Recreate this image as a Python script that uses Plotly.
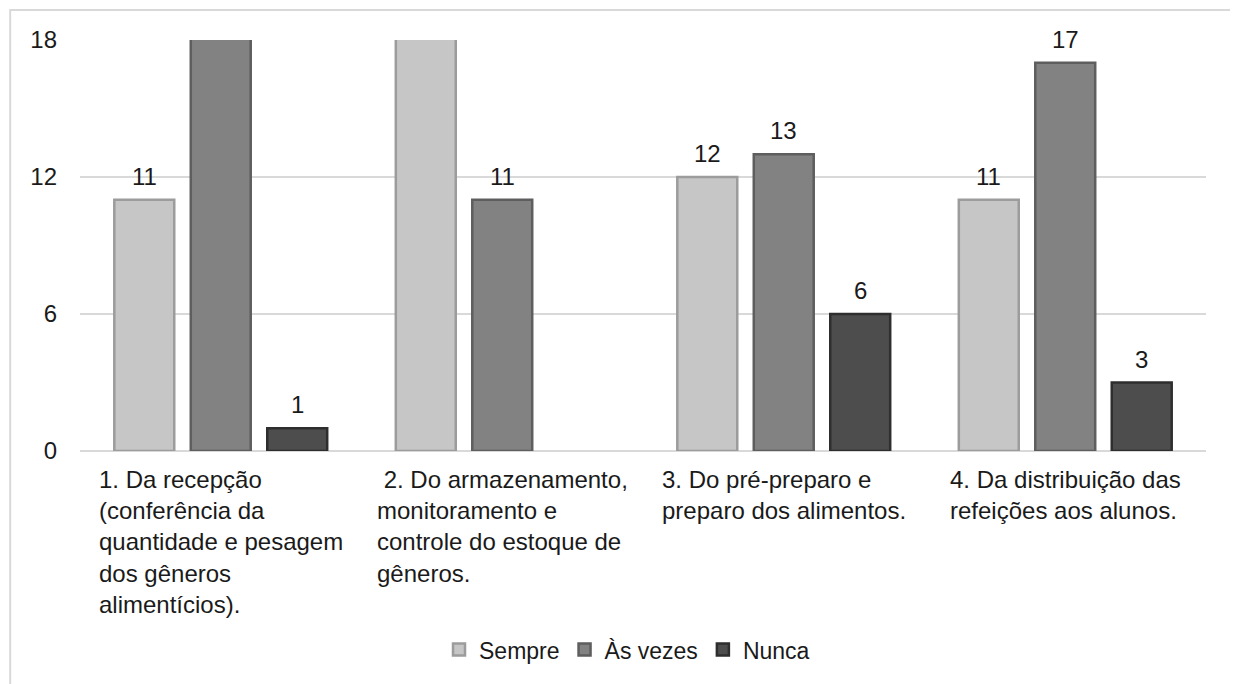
import plotly.graph_objects as go

categories = [
    "1. Da recepção<br>(conferência da<br>quantidade e pesagem<br>dos gêneros<br>alimentícios).",
    " 2. Do armazenamento,<br>monitoramento e<br>controle do estoque de<br>gêneros.",
    "3. Do pré-preparo e<br>preparo dos alimentos.",
    "4. Da distribuição das<br>refeições aos alunos.",
]
series_names = ["Sempre", "Às vezes", "Nunca"]
sempre = [11, 20, 12, 11]
as_vezes = [19, 11, 13, 17]
nunca = [1, None, 6, 3]
y_ticks = [0, 6, 12, 18]
y_max = 18

fills = ["#c6c6c6", "#828282", "#4d4d4d"]
edges = ["#9c9c9c", "#5e5e5e", "#2e2e2e"]
FONT = "Liberation Sans, Arial, sans-serif"
TXT = "#1a1a1a"
BARGAP = 0.185
GROUPGAP = 0.216

x_idx = list(range(len(categories)))
all_series = [sempre, as_vezes, nunca]
n = len(all_series)
slot = (1 - BARGAP) / n

fig = go.Figure()
for k, (name, vals, fc, ec) in enumerate(zip(series_names, all_series, fills, edges)):
    fig.add_trace(go.Bar(
        name=name, x=x_idx, y=vals, cliponaxis=True,
        marker=dict(color=fc, line=dict(color=ec, width=2.5)),
        hoverinfo="y+name",
    ))
    # value labels (hidden where the bar runs past the axis maximum)
    for i, v in zip(x_idx, vals):
        if v is None or v > y_max:
            continue
        fig.add_annotation(
            x=i + (k - (n - 1) / 2) * slot, y=v, xref="x", yref="y",
            yanchor="bottom", xanchor="center", yshift=8,
            text=str(v), showarrow=False,
            font=dict(family=FONT, size=24, color=TXT),
        )

for i, lab in enumerate(categories):
    fig.add_annotation(
        x=i, y=0, xref="x", yref="paper", yanchor="top", xanchor="center",
        align="left", text=lab, showarrow=False, yshift=-13,
        font=dict(family=FONT, size=24, color=TXT),
    )

fig.add_shape(type="rect", xref="paper", yref="paper",
              x0=-0.062, x1=1.0265, y0=-0.62, y1=1.073,
              line=dict(color="#d9d9d9", width=2), layer="below")

fig.update_layout(
    width=1238, height=684,
    margin=dict(l=72, r=40, t=32, b=241),
    paper_bgcolor="white", plot_bgcolor="white",
    barmode="group", bargap=BARGAP, bargroupgap=GROUPGAP,
    font=dict(family=FONT, size=24, color=TXT),
    showlegend=True,
    legend=dict(orientation="h", xref="container", yref="container",
                x=0.5, xanchor="center", y=0.062, yanchor="middle",
                font=dict(family=FONT, size=23, color=TXT),
                itemwidth=30, traceorder="normal"),
    xaxis=dict(range=[-0.5, 3.5], showticklabels=False, showgrid=False,
               zeroline=False, showline=False, fixedrange=True),
    yaxis=dict(range=[0, y_max], tickvals=y_ticks, showgrid=True,
               gridcolor="#d9d9d9", gridwidth=1.5, zeroline=True,
               zerolinecolor="#d9d9d9", zerolinewidth=1.5, showline=False,
               ticklabelstandoff=22,
               tickfont=dict(family=FONT, size=24, color=TXT)),
)

fig.write_html("out.html")
